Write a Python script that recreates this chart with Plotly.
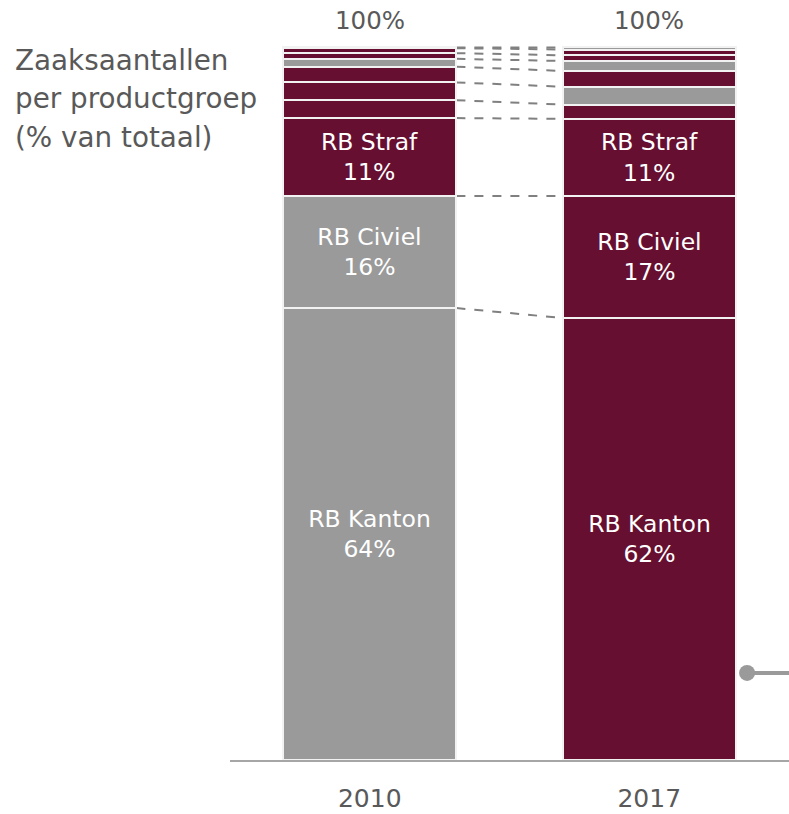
import plotly.graph_objects as go
import numpy as np


THEME = {
    "dark": "#660F30",
    "gray": "#9A9A9A",
    "text": "#595959",
    "edge": "#F2F2F2",
    "axis": "#A6A6A6",
    "dash": "#808080",
}

FONT = "DejaVu Sans"

years = ["2010", "2017"]
segments = ["RB Kanton", "RB Civiel", "RB Straf", "Overig 1", "Overig 2",
            "Overig 3", "Overig 4", "Overig 5", "Overig 6", "Overig 7"]
share_2010 = [63.3, 15.7, 10.9, 2.5, 2.5, 2.2, 1.1, 0.8, 0.7, 0.1]
share_2017 = [61.9, 17.1, 10.8, 2.0, 2.5, 2.2, 1.4, 0.8, 0.8, 0.3]
color_2010 = ["gray", "gray", "dark", "dark", "dark", "dark", "gray", "dark", "dark", "dark"]
color_2017 = ["dark", "dark", "dark", "dark", "gray", "dark", "gray", "dark", "dark", "gray"]
label_2010 = ["RB Kanton<br>64%", "RB Civiel<br>16%", "RB Straf<br>11%"]
label_2017 = ["RB Kanton<br>62%", "RB Civiel<br>17%", "RB Straf<br>11%"]
totals = ["100%", "100%"]
title_lines = ["Zaaksaantallen", "per productgroep", "(% van totaal)"]

BAR_W = 0.62
xpos = [0, 1]

fig = go.Figure()
for i, seg in enumerate(segments):
    text = [label_2010[i], label_2017[i]] if i < len(label_2010) else ["", ""]
    fig.add_trace(go.Bar(
        x=xpos, y=[share_2010[i], share_2017[i]], name=seg,
        width=BAR_W,
        marker=dict(color=[THEME[color_2010[i]], THEME[color_2017[i]]],
                    line=dict(color=THEME["edge"], width=2)),
        text=text, textposition="inside", insidetextanchor="middle",
        textangle=0,
        textfont=dict(color="white", size=23.5, family=FONT),
        hoverinfo="name+y",
    ))

# dashed connectors between matching segment boundaries
cum_a = np.cumsum(share_2010)
cum_b = np.cumsum(share_2017)
for a, b in zip(cum_a, cum_b):
    fig.add_shape(type="line", xref="x", yref="y",
                  x0=xpos[0] + BAR_W / 2, x1=xpos[1] - BAR_W / 2, y0=a, y1=b,
                  line=dict(color=THEME["dash"], width=2, dash="dash"), layer="below")

for x, t in zip(xpos, totals):
    fig.add_annotation(x=x, y=100, text=t, showarrow=False, yanchor="bottom",
                       yshift=9, font=dict(size=24.5, color=THEME["text"], family=FONT))

for k, line in enumerate(title_lines):
    fig.add_annotation(xref="paper", yref="paper", x=-0.388, y=1, xanchor="left",
                       yanchor="middle", yshift=-14 - 38.5 * k, showarrow=False,
                       text=line, font=dict(size=27.8, color=THEME["text"], family=FONT))

# marker on the right edge
fig.add_shape(type="line", xref="paper", yref="paper", x0=0.925, x1=1.0, y0=0.122, y1=0.122,
              line=dict(color=THEME["gray"], width=4))
fig.add_shape(type="circle", xref="paper", yref="paper", xsizemode="pixel", ysizemode="pixel",
              xanchor=0.925, yanchor=0.122, x0=-8, x1=8, y0=-8, y1=8,
              fillcolor=THEME["gray"], line=dict(width=0))

fig.update_layout(
    barmode="stack",
    bargap=0,
    showlegend=False,
    width=789, height=814,
    paper_bgcolor="white", plot_bgcolor="white",
    font=dict(family=FONT, color=THEME["text"]),
    margin=dict(l=230, r=0, t=46, b=54, autoexpand=False),
    xaxis=dict(range=[-0.5, 1.5], tickvals=xpos, ticktext=years, showgrid=False,
               zeroline=False, showline=True, linecolor=THEME["axis"], linewidth=2,
               automargin=False,
               tickfont=dict(size=25, color=THEME["text"]), ticklabelstandoff=15),
    yaxis=dict(range=[0, 100], visible=False, automargin=False),
)

fig.write_html("out.html", config={"displayModeBar": False},
               post_script="document.body.style.margin='0px';")
